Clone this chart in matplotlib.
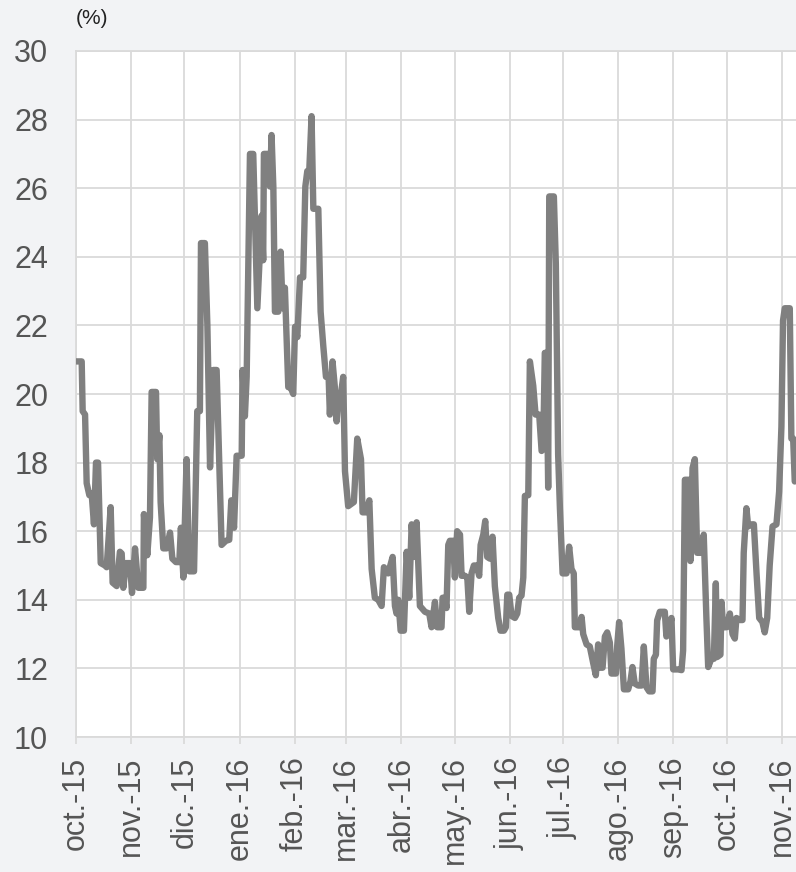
import matplotlib
matplotlib.use("Agg")
import matplotlib.pyplot as plt
import pandas as pd

# ---- data ----
start_date = "2015-10-01"
days_since_start = [
    0, 3.2, 3.75, 5.1, 6.0, 7.5, 8.8, 10.1, 11.25, 12.4, 13.9, 16.3, 17.25, 19.5, 20.6, 22.9,
    24.7, 25.7, 26.6, 28.1, 30.4, 31.5, 33.2, 35.05, 37.9, 38.2, 40.1, 41.6, 42.55, 45.0, 45.7,
    46.9, 47.6, 49.1, 51.0, 52.9, 54.2, 56.2, 58.1, 59.0, 60.4, 62.2, 63.7, 66.4, 67.5, 68.2,
    69.7, 70.3, 72.5, 73.9, 75.4, 77.2, 79.1, 80.0, 81.9, 84.3, 86.2, 87.35, 88.9, 90.35, 93.2,
    93.7, 95.0, 96.0, 97.85, 99.7,
    102.0, 104.4, 105.3, 105.7, 108.2, 109.1, 110.0, 111.0, 111.9, 113.8, 115.1, 116.2, 117.5,
    119.4, 120.7, 122.2, 123.2, 124.5, 126.0, 127.8, 129.0, 130.1, 131.2, 132.5, 133.5, 136.3,
    137.6, 139.1, 140.6, 142.1, 142.8, 144.3, 145.6, 146.6, 147.5, 148.8, 150.3, 151.3, 153.1,
    155.0, 156.3, 158.2, 160.3, 161.2, 163.1, 165.0, 166.3, 168.1, 170.0, 171.9, 173.2, 175.6,
    178.1, 179.4, 180.3, 181.3, 182.6, 184.45, 186.0, 187.45, 188.8, 190.1, 191.6, 193.45,
    196.3, 198.7, 200.0,
    201.9, 203.2, 205.6, 206.2, 207.5, 208.4, 209.4, 210.3, 212.2, 213.1, 214.4, 216.0, 216.9,
    218.8, 220.1, 221.2, 222.5, 223.8, 225.3, 226.8, 227.6, 229.1, 230.2, 231.3, 232.8, 234.3,
    235.6, 237.5, 238.8, 240.7, 241.8, 242.6, 243.7, 245.0, 246.9, 248.2, 249.3, 250.6, 251.6,
    252.5, 254.4, 255.3, 257.2, 258.5, 260.55, 261.9, 262.8, 263.7, 264.7, 265.6, 266.2, 268.8,
    269.9, 271.2, 272.2, 273.7, 275.9, 277.4, 278.7, 280.0, 280.6, 283.0, 284.4, 285.3, 287.2,
    289.0, 290.9, 292.4, 293.7, 294.7, 296.2, 297.5, 298.8, 300.3,
    301.2, 303.7, 304.4, 305.5, 306.8, 308.2, 310.6, 311.9, 313.0, 314.3, 316.2, 318.1, 319.4,
    320.9, 322.4, 324.3, 325.0, 326.2, 326.9, 328.4, 331.2, 332.1, 333.6, 334.95, 335.9, 338.7,
    340.6, 341.5, 342.5, 344.9, 345.6, 346.8, 348.1, 349.4, 351.8, 353.1, 354.6, 355.6, 357.4,
    358.8, 359.9, 360.6, 362.5, 363.1, 364.0, 365.9, 367.8, 369.3, 370.6, 371.5, 373.4, 374.9,
    375.6, 377.1, 378.1, 380.0, 381.3, 382.8, 384.3, 386.1, 387.4, 388.8, 390.2, 391.8, 394.0,
    395.5, 396.8, 397.7, 398.7, 401.5, 402.4, 403.4, 404.3,
]
volatility_pct = [
    20.95, 20.95, 19.5, 19.4, 17.4, 17.05, 17.1, 16.2, 18.0, 18.0, 15.07, 15.0, 14.95, 16.7, 14.5, 14.4,
    15.4, 15.35, 14.35, 15.07, 15.07, 14.2, 15.5, 14.35, 14.35, 16.5, 15.3, 16.4, 20.06, 20.06, 18.1,
    18.8, 16.85, 15.5, 15.5, 15.96, 15.2, 15.1, 15.1, 16.1, 14.65, 18.1, 14.83, 14.83, 17.6, 19.5,
    19.5, 24.4, 24.4, 22.0, 17.86, 20.7, 20.7, 19.05, 15.6, 15.72, 15.75, 16.9, 16.1, 18.2, 18.2,
    20.7, 19.35, 20.5, 27.0, 27.0,
    22.5, 25.2, 23.9, 27.0, 27.0, 26.05, 27.55, 26.05, 22.4, 22.4, 24.15, 22.5, 23.1,
    20.2, 20.2, 20.0, 21.96, 21.66, 23.4, 23.4, 26.05, 26.5, 26.5, 28.1, 25.4, 25.4,
    22.4, 21.4, 20.5, 20.5, 19.4, 20.95, 20.2, 19.2, 19.8, 19.9, 20.5, 17.75, 16.73,
    16.8, 16.85, 18.7, 18.1, 16.55, 16.55, 16.9, 14.9, 14.06, 14.0, 13.82, 14.95, 14.77,
    15.25, 13.82, 13.6, 14.0, 13.1, 13.1, 15.4, 14.06, 16.2, 15.25, 16.26, 13.82,
    13.65, 13.6, 13.2,
    13.94, 13.2, 13.2, 14.06, 14.06, 13.76, 15.6, 15.72, 15.72, 14.65, 16.0, 15.9, 14.7,
    14.7, 14.65, 13.65, 14.77, 15.0, 15.0, 14.7, 15.6, 15.9, 16.3, 15.25, 15.2, 15.84,
    14.4, 13.47, 13.1, 13.1, 13.2, 14.15, 14.15, 13.53, 13.47, 13.6, 14.06, 14.12, 14.65,
    17.03, 17.05, 20.95, 20.24, 19.4, 19.4, 18.34, 18.4, 21.2, 21.2, 17.27, 25.76, 25.76,
    23.8, 18.24, 16.67, 14.77, 14.77, 15.55, 14.9, 14.77, 13.2, 13.2, 13.5, 13.0, 12.7,
    12.64, 12.16, 11.8, 12.7, 12.02, 12.02, 12.93, 13.05, 12.75,
    11.85, 11.85, 12.64, 13.35, 12.58, 11.39, 11.39, 11.63, 12.04, 11.56, 11.5, 11.5, 12.64,
    11.45, 11.33, 11.33, 12.28, 12.4, 13.4, 13.65, 13.65, 12.93, 13.1, 13.47, 11.97, 11.97,
    11.95, 12.52, 17.5, 17.5, 15.13, 17.84, 18.1, 15.37, 15.37, 15.9, 13.47, 12.04, 12.28,
    12.28, 14.48, 12.33, 12.4, 13.94, 13.2, 13.2, 13.6, 13.0, 12.87, 13.47, 13.41, 13.41,
    15.37, 16.67, 16.14, 16.2, 16.2, 14.77, 13.47, 13.35, 13.05, 13.47, 15.0, 16.14, 16.2,
    17.15, 19.05, 22.14, 22.5, 22.5, 18.7, 18.7, 17.45,
]
month_starts = pd.date_range("2015-10-01", "2016-11-01", freq="MS")
month_labels = ["oct.-15", "nov.-15", "dic.-15", "ene.-16", "feb.-16", "mar.-16", "abr.-16",
                "may.-16", "jun.-16", "jul.-16", "ago.-16", "sep.-16", "oct.-16", "nov.-16"]
y_ticks = [10, 12, 14, 16, 18, 20, 22, 24, 26, 28, 30]
unit_label = "(%)"

# ---- plot ----
plt.rcParams['font.family'] = ['Liberation Sans', 'DejaVu Sans']
W, H = 796, 872
fig = plt.figure(figsize=(W / 100, H / 100), dpi=100, facecolor="#f2f3f5")
ax = fig.add_axes([76 / W, (H - 737) / H, 720 / W, 686 / H])
ax.set_facecolor("white")

t0 = pd.Timestamp(start_date)
x = t0 + pd.to_timedelta(days_since_start, unit="D")
ax.plot(x, volatility_pct, color="#808080", lw=4.6, solid_joinstyle="round",
        solid_capstyle="round", zorder=3)

ax.set_ylim(10, 30)
ax.set_yticks(y_ticks)
ax.set_xlim(t0, t0 + pd.Timedelta(days=405))
ax.set_xticks(month_starts)
ax.set_xticklabels(month_labels, rotation=90)

grid_c = "#dadada"
ax.grid(True, color=grid_c, lw=1.3, zorder=0)
for s in ax.spines.values():
    s.set_color(grid_c)
    s.set_linewidth(1.3)
ax.spines["right"].set_visible(False)

ax.tick_params(axis="x", length=5, width=1.3, color=grid_c, pad=9,
               labelsize=22, labelcolor="#555555")
ax.tick_params(axis="y", length=0, pad=20, labelsize=22, labelcolor="#555555")

fig.text(76 / W, 1 - 18 / H, unit_label, ha="left", va="center", fontsize=15, color="#222222")

fig.savefig("out.png", dpi=100, facecolor=fig.get_facecolor())
